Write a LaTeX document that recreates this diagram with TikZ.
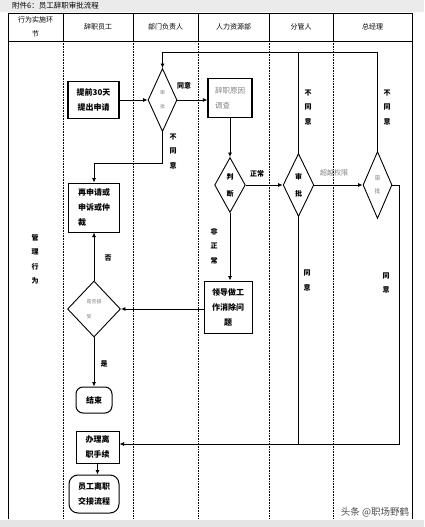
\documentclass[tikz,border=0pt]{standalone}
\usepackage{fontspec}
\setmainfont{Noto Sans CJK SC}
\usetikzlibrary{shapes.geometric,arrows.meta}

\begin{document}
\begin{tikzpicture}[x=1pt, y=-1pt, >={Latex[length=4.5pt,width=4pt]},
  every node/.style={inner sep=0pt},
  flowbox/.style={draw=black, line width=1pt, align=center, font=\fontsize{8}{15}\selectfont\bfseries},
  endbox/.style={flowbox, rounded corners=7pt},
  decide/.style={draw=black, diamond, line width=0.9pt, align=center, font=\fontsize{7}{17}\selectfont\bfseries},
  hdr/.style={align=center, font=\fontsize{7}{14}\selectfont},
  lbl/.style={align=center, font=\fontsize{7}{14.5}\selectfont\bfseries},
  soft/.style={text=black!50},
  line/.style={line width=0.8pt}]

\useasboundingbox (0,0) rectangle (424,527);
\fill[black!8] (0,0) rectangle (424,12);
\fill[black!10] (0,520) rectangle (424,527);
\node[anchor=west, font=\fontsize{7.5}{9}\selectfont] (title) at (12,6) {附件6：员工辞职审批流程};

 % table
 \draw[line width=0.7pt] (8,519) -- (8,13) -- (412,13) -- (412,519);
 \draw[line width=0.7pt] (8,41) -- (412,41);
 \foreach \x in {63,133,198,269,333} {
         \draw[line width=0.7pt] (\x,13) -- (\x,41);
         \draw[densely dotted, line width=0.6pt] (\x,41) -- (\x,519);
 }
 \foreach \x/\name/\txt in {35.5/h0/{行为实施环\\节}, 98/h1/辞职员工, 165.5/h2/部门负责人,
                            233.5/h3/人力资源部, 301/h4/分管人, 372.5/h5/总经理} {
         \node[hdr] (\name) at (\x,27) {\txt};
 }
 \node[lbl] (side) at (35,259.5) {管\\理\\行\\为};

 % steps
 \node[flowbox, line width=1.6pt, minimum width=51pt, minimum height=37pt] (apply) at (93.5,100) {提前30天\\提出申请};
 \node[decide, minimum width=29pt, minimum height=63pt, font=\fontsize{5}{14}\selectfont\mdseries, soft] (dept) at (162.5,100) {审\\批};
 \node[flowbox, align=left, minimum width=44pt, minimum height=39pt, line width=1.2pt, font=\fontsize{7.5}{15}\selectfont\mdseries] (hr) at (230,98)
      {{\color{black!50}辞职原因}\\{\color{black!50}调查}};
 \node[decide, minimum width=28pt, minimum height=55pt] (judge) at (230,185) {判\\断};
 \node[decide, minimum width=29pt, minimum height=63pt] (fg) at (298.5,185) {审\\批};
 \node[decide, minimum width=29pt, minimum height=67pt, font=\fontsize{6}{13}\selectfont\mdseries, soft] (gm) at (377.5,185) {审\\批};
 \node[flowbox, align=left, minimum width=51pt, minimum height=49pt] (retry) at (94,207.5) {再申请或\\申诉或仲\\裁};
 \node[flowbox, minimum width=48pt, minimum height=52pt] (talk) at (228,307) {领导做工\\作消除问\\题};
 \node[decide, align=left, minimum width=53pt, minimum height=56pt, font=\fontsize{5}{15}\selectfont\mdseries, soft] (accept) at (94,309) {是否接\\受};
 \node[endbox, minimum width=36pt, minimum height=26pt] (end) at (94,400) {结束};
 \node[flowbox, minimum width=43pt, minimum height=32pt] (proc) at (97.5,447) {办理离\\职手续};
 \node[endbox, rounded corners=9pt, minimum width=50pt, minimum height=38pt] (handover) at (94,494) {员工离职\\交接流程};

 \coordinate (loop) at (162.5,52);
 \coordinate (bend) at (94,163);
 \coordinate (back) at (399,444);

 % lines
 \draw[line,->] (apply) -- (dept);
 \draw[line,->] (dept.east) -- (dept.east -| hr.west);
 \draw[line,->] (gm.north) |- (loop) -- (dept.north);
 \draw[line] (fg.north) -- (fg.north |- loop);
 \draw[line,->] (dept.south) |- (bend) -- (retry.north);
 \draw[line,->] (hr.south) -- (judge.north);
 \draw[line,->] (judge) -- (fg);
 \draw[line,->] (judge.south) -- (judge.south |- talk.north);
 \draw[line,->] (fg) -- (gm);
 \draw[line,->] (talk.west |- accept) -- (accept.east);
 \draw[line,->] (accept.north) -- (retry.south);
 \draw[line,->] (accept.south) -- (end.north);
 \draw[line,->] (gm.east) -| (back) -- (back -| proc.east);
 \draw[line] (fg.south) -- (fg.south |- back);
 \draw[line,->] (proc.south) -- (proc.south |- handover.north);

 % labels
 \node[lbl] (l1) at (184,86) {同意};
 \node[lbl] (l2) at (173,151.5) {不\\同\\意};
 \node[lbl] (l3) at (308,107.5) {不\\同\\意};
 \node[lbl] (l4) at (387,107.5) {不\\同\\意};
 \node[lbl] (l5) at (257,174) {正常};
 \node[lbl, soft, font=\fontsize{7}{14.5}\selectfont] (l6) at (334,173) {超越权限};
 \node[lbl] (l7) at (214,246) {非\\正\\常};
 \node[lbl] (l8) at (307,280.5) {同\\意};
 \node[lbl] (l9) at (386,283) {同\\意};
 \node[lbl] (l10) at (108,258) {否};
 \node[lbl] (l11) at (104,364) {是};

 \node[font=\fontsize{9.5}{10}\selectfont, text=black!70] (mark) at (375,512) {头条 @职场野鹤};

\end{tikzpicture}
\end{document}
